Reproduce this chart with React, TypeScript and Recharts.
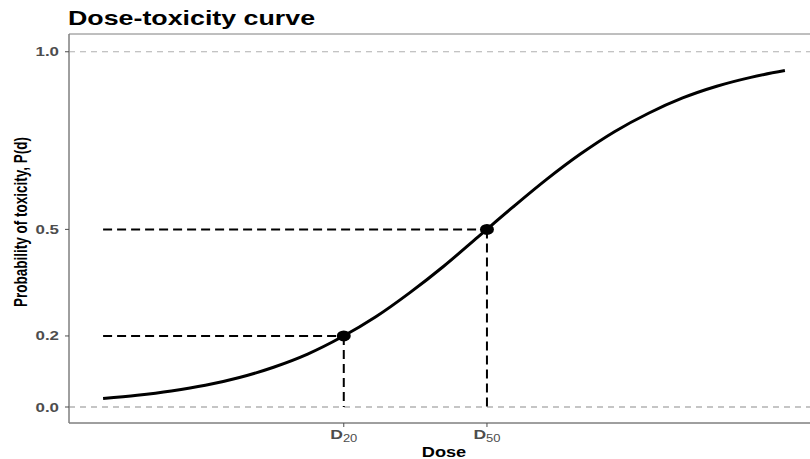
import React from 'react';
import {
  ComposedChart,
  Line,
  Scatter,
  XAxis,
  YAxis,
  ReferenceLine,
  ReferenceArea,
  Label,
} from 'recharts';

// curve (dose on an arbitrary 0-100 scale)
const doses = [0, 5, 10, 15, 20, 25, 30, 35, 40, 45, 50, 55, 60, 65, 70, 75, 80, 85, 90, 95, 100];
const probs = [0.024, 0.033, 0.045, 0.061, 0.083, 0.112, 0.149, 0.197, 0.254, 0.322, 0.397, 0.479, 0.561, 0.64, 0.712, 0.775, 0.827, 0.87, 0.903, 0.928, 0.947];

// marked doses D20 / D50
const markDoses = [35.3, 56.3];
const markProbs = [0.2, 0.5];
const markSubs = ['20', '50'];

const yTicks = [0, 0.2, 0.5, 1.0];
const refLevels = [0, 1.0];

const curve = doses.map((d, i) => ({ dose: d, p: probs[i] }));
const marks = markDoses.map((d, i) => ({ dose: d, p: markProbs[i], sub: markSubs[i] }));

const FONT = 'Liberation Sans, Arial, sans-serif';
const STRETCH = 1.3;

const YTick = ({ x, y, payload }: any) => (
  <g transform={`translate(${x - 4},${y + 4.5}) scale(${STRETCH},1)`}>
    <text textAnchor="end" fontFamily={FONT} fontWeight="bold" fontSize={13} fill="#4d4d4d">
      {Number(payload.value).toFixed(1)}
    </text>
  </g>
);

const XTick = ({ x, y, payload }: any) => {
  const idx = markDoses.indexOf(payload.value);
  const sub = idx >= 0 ? markSubs[idx] : '';
  return (
    <g transform={`translate(${x},${y + 10}) scale(${STRETCH},1)`}>
      <text textAnchor="middle" fontFamily={FONT} fontSize={13} fill="#4d4d4d">
        <tspan fontWeight="bold" fontSize={13.5}>D</tspan>
        <tspan fontSize={10} dy={3}>{sub}</tspan>
      </text>
    </g>
  );
};

const Dot = ({ cx, cy }: any) => <ellipse cx={cx} cy={cy} rx={7} ry={5.5} fill="#000" />;

export default function App() {
  return (
    <div style={{ position: 'absolute', left: 0, top: 0, width: 810, height: 459, overflow: 'hidden', background: '#fff' }}>
      <svg width={810} height={34} style={{ position: 'absolute', left: 0, top: 0 }}>
        <g transform={`translate(68,25) scale(1.34,1)`}>
          <text fontFamily={FONT} fontWeight="bold" fontSize={20} fill="#000">
            Dose-toxicity curve
          </text>
        </g>
      </svg>
      <ComposedChart
        width={819}
        height={459}
        margin={{ top: 34, right: 0, left: 0, bottom: 0 }}
        style={{ position: 'absolute', left: 0, top: 0 }}
      >
        <ReferenceArea x1={-5} x2={105} y1={-0.045} y2={1.05} fill="none" stroke="#7f7f7f" strokeWidth={1} ifOverflow="visible" />
        {refLevels.map((v) => (
          <ReferenceLine key={v} y={v} stroke={v === 0 ? '#8c8c8c' : '#b0b0b0'} strokeDasharray="6 5" strokeWidth={1.2} />
        ))}
        <XAxis
          dataKey="dose"
          type="number"
          domain={[-5, 105]}
          allowDataOverflow
          ticks={markDoses}
          tick={<XTick />}
          tickSize={4}
          tickLine={{ stroke: '#4d4d4d' }}
          axisLine={{ stroke: '#7f7f7f' }}
          height={36}
        >
          <Label
            content={({ viewBox }: any) => (
              <g transform={`translate(${viewBox.x + viewBox.width / 2},457) scale(${STRETCH},1)`}>
                <text textAnchor="middle" fontFamily={FONT} fontWeight="bold" fontSize={14} fill="#000">
                  Dose
                </text>
              </g>
            )}
          />
        </XAxis>
        <YAxis
          type="number"
          domain={[-0.045, 1.05]}
          allowDataOverflow
          ticks={yTicks}
          tick={<YTick />}
          tickSize={4}
          tickLine={{ stroke: '#4d4d4d' }}
          axisLine={{ stroke: '#7f7f7f' }}
          width={69}
        >
          <Label
            content={() => (
              <g transform={`translate(27,222) scale(${STRETCH},1) rotate(-90)`}>
                <text textAnchor="middle" fontFamily={FONT} fontWeight="bold" fontSize={13.5} fill="#000">
                  Probability of toxicity, P(d)
                </text>
              </g>
            )}
          />
        </YAxis>
        {marks.map((m) => (
          <ReferenceLine
            key={`h${m.sub}`}
            segment={[{ x: doses[0], y: m.p }, { x: m.dose, y: m.p }]}
            stroke="#000"
            strokeWidth={2}
            strokeDasharray="9 5"
          />
        ))}
        {marks.map((m) => (
          <ReferenceLine
            key={`v${m.sub}`}
            segment={[{ x: m.dose, y: m.p }, { x: m.dose, y: 0 }]}
            stroke="#000"
            strokeWidth={2}
            strokeDasharray="9 5"
          />
        ))}
        <Line
          data={curve}
          dataKey="p"
          type="monotone"
          stroke="#000"
          strokeWidth={3}
          dot={false}
          isAnimationActive={false}
        />
        <Scatter data={marks} dataKey="p" shape={<Dot />} isAnimationActive={false} />
      </ComposedChart>
    </div>
  );
}
